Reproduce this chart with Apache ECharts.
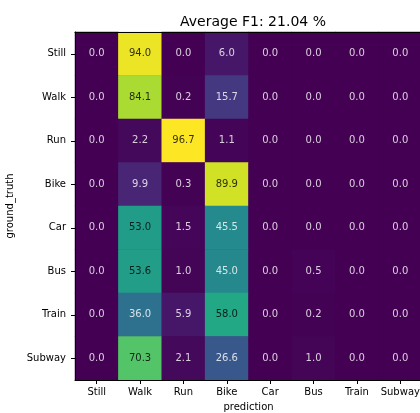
<!DOCTYPE html>
<html>
<head>
<meta charset="utf-8">
<script src="https://cdn.jsdelivr.net/npm/echarts@6/dist/echarts.min.js"></script>
<style>
html,body{margin:0;padding:0;background:#fff;}
#chart{width:420px;height:413px;}
</style>
</head>
<body>
<div id="chart"></div>
<script>
const predictionLabels = ['Still','Walk','Run','Bike','Car','Bus','Train','Subway'];
const groundTruthLabels = ['Still','Walk','Run','Bike','Car','Bus','Train','Subway'];
const rowStill  = [0.0, 94.0, 0.0, 6.0, 0.0, 0.0, 0.0, 0.0];
const rowWalk   = [0.0, 84.1, 0.2, 15.7, 0.0, 0.0, 0.0, 0.0];
const rowRun    = [0.0, 2.2, 96.7, 1.1, 0.0, 0.0, 0.0, 0.0];
const rowBike   = [0.0, 9.9, 0.3, 89.9, 0.0, 0.0, 0.0, 0.0];
const rowCar    = [0.0, 53.0, 1.5, 45.5, 0.0, 0.0, 0.0, 0.0];
const rowBus    = [0.0, 53.6, 1.0, 45.0, 0.0, 0.5, 0.0, 0.0];
const rowTrain  = [0.0, 36.0, 5.9, 58.0, 0.0, 0.2, 0.0, 0.0];
const rowSubway = [0.0, 70.3, 2.1, 26.6, 0.0, 1.0, 0.0, 0.0];
const rows = [rowStill, rowWalk, rowRun, rowBike, rowCar, rowBus, rowTrain, rowSubway];
const titleText = 'Average F1: 21.04 %';

const viridis = ['#440154','#482475','#414487','#355f8d','#2a788e','#21918c','#22a884','#44bf70','#7ad151','#bddf26','#fde725'];
let vmax = 0;
rows.forEach(r => r.forEach(v => { if (v > vmax) vmax = v; }));
const threshold = vmax / 2;

const data = [];
const darkText = [];
const lightText = [];
rows.forEach((r, yi) => r.forEach((v, xi) => {
  data.push([xi, yi, v]);
  (v > threshold ? darkText : lightText).push([xi, yi, v]);
}));

const font = 'DejaVu Sans';
function textSeries(arr, color) {
  return {
    type: 'scatter', data: arr, symbolSize: 1, z: 5, silent: true,
    itemStyle: { color: 'rgba(0,0,0,0)' },
    label: {
      show: true, position: 'inside', color: color, fontFamily: font, fontSize: 10,
      formatter: p => p.value[2].toFixed(1)
    },
    emphasis: { disabled: true }
  };
}
const chart = echarts.init(document.getElementById('chart'), null, {renderer: 'canvas'});
chart.setOption({
  animation: false,
  backgroundColor: '#ffffff',
  title: {
    text: titleText,
    left: 248, top: 10, textAlign: 'center',
    textStyle: { fontFamily: font, fontSize: 14, fontWeight: 'normal', color: '#000' }
  },
  grid: {
    left: 75, top: 32, width: 347, height: 348,
    outerBoundsMode: 'none', containLabel: false,
    show: true, borderWidth: 0, backgroundColor: '#440154'
  },
  xAxis: [{
    type: 'category', data: predictionLabels, z: 10,
    name: 'prediction', nameLocation: 'middle', nameGap: 22,
    nameTextStyle: { fontFamily: font, fontSize: 10, color: '#000' },
    axisLine: { show: true, lineStyle: { color: '#000', width: 1 } },
    axisTick: { show: true, alignWithLabel: true, length: 4, lineStyle: { color: '#000' } },
    axisLabel: { fontFamily: font, fontSize: 10, color: '#000', margin: 7, interval: 0 },
    splitLine: { show: false }
  }, {
    type: 'category', data: predictionLabels, position: 'top', z: 10,
    axisLine: { show: true, lineStyle: { color: '#000', width: 1 } },
    axisTick: { show: false }, axisLabel: { show: false }, splitLine: { show: false }
  }],
  yAxis: {
    type: 'category', data: groundTruthLabels, inverse: true, z: 10,
    name: 'ground_truth', nameLocation: 'middle', nameGap: 57,
    nameTextStyle: { fontFamily: font, fontSize: 10, color: '#000' },
    axisLine: { show: true, lineStyle: { color: '#000', width: 1 } },
    axisTick: { show: true, alignWithLabel: true, length: 4, lineStyle: { color: '#000' } },
    axisLabel: { fontFamily: font, fontSize: 10, color: '#000', margin: 9, interval: 0 },
    splitLine: { show: false }
  },
  visualMap: {
    show: false, min: 0, max: vmax, dimension: 2, seriesIndex: 0,
    inRange: { color: viridis }
  },
  series: [{
    type: 'heatmap',
    data: data,
    label: { show: false },
    itemStyle: { borderWidth: 0 },
    emphasis: { disabled: true }
  }, textSeries(darkText, '#000000'), textSeries(lightText, '#ffffff')]
});
</script>
</body>
</html>
